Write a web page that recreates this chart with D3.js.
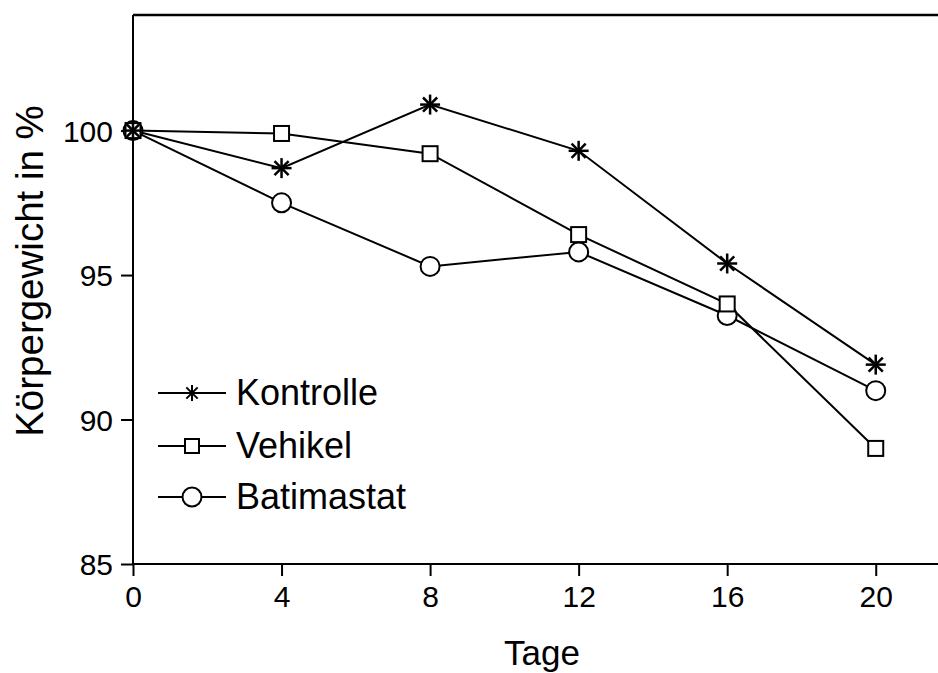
<!DOCTYPE html>
<html>
<head>
<meta charset="utf-8">
<script src="https://cdn.jsdelivr.net/npm/d3@7"></script>
<style>
body { margin: 0; background: #fff; }
svg { display: block; font-family: "Liberation Sans", Arial, sans-serif; }
</style>
</head>
<body>
<svg id="chart"></svg>
<script>
const days = [0, 4, 8, 12, 16, 20];
const kontrolle = [100, 98.7, 100.9, 99.3, 95.4, 91.9];
const vehikel = [100, 99.9, 99.2, 96.4, 94.0, 89.0];
const batimastat = [100, 97.5, 95.3, 95.8, 93.6, 91.0];
const seriesNames = ["Kontrolle", "Vehikel", "Batimastat"];
const xTicks = [0, 4, 8, 12, 16, 20];
const yTicks = [85, 90, 95, 100];

const width = 938, height = 673;
const svg = d3.select("#chart")
.attr("width", width)
.attr("height", height);

const x = d3.scaleLinear().domain([0, 22]).range([133, 950]);
const y = d3.scaleLinear().domain([85, 104]).range([564, 15]);

// frame top line
svg.append("line")
.attr("x1", x(0)).attr("x2", width)
.attr("y1", y(104)).attr("y2", y(104))
.attr("stroke", "#000").attr("stroke-width", 2.5);

const xAxis = svg.append("g")
.attr("transform", `translate(0,${y(85)})`)
.call(d3.axisBottom(x).tickValues(xTicks).tickSize(12).tickPadding(10).tickFormat(d3.format("d")));
xAxis.select(".domain").attr("d", `M${x(0)},0H${width}`);

const yAxis = svg.append("g")
.attr("transform", `translate(${x(0)},0)`)
.call(d3.axisLeft(y).tickValues(yTicks).tickSize(12).tickPadding(8).tickFormat(d3.format("d")));
yAxis.select(".domain").attr("d", `M0,${y(104)}V${y(85)}`);

svg.selectAll(".domain").attr("stroke", "#000").attr("stroke-width", 2);
svg.selectAll(".tick line").attr("stroke", "#000").attr("stroke-width", 2);
svg.selectAll("g.tick text")
.attr("fill", "#000")
.attr("font-size", 30)
.attr("font-family", "'Liberation Sans', Arial, sans-serif");
yAxis.selectAll(".tick text").attr("dy", "0.36em");

// axis titles
svg.append("text")
.attr("x", 542).attr("y", 665)
.attr("text-anchor", "middle")
.style("font-size", "35px")
.text("Tage");
svg.append("text")
.attr("transform", `translate(43,271) rotate(-90)`)
.attr("text-anchor", "middle")
.style("font-size", "38.5px")
.text("Körpergewicht in %");

const allSeries = [kontrolle, vehikel, batimastat];
const line = d3.line().x((d, i) => x(days[i])).y(d => y(d));

function drawMarker(g, type, big) {
  if (type === 0) {
    const r = big ? 10 : 8;
    [0, 45, 90, 135].forEach(a => {
      const rad = a * Math.PI / 180;
      g.append("line")
        .attr("x1", -r * Math.cos(rad)).attr("y1", -r * Math.sin(rad))
        .attr("x2", r * Math.cos(rad)).attr("y2", r * Math.sin(rad))
        .attr("stroke", "#000").attr("stroke-width", big ? 2.5 : 2);
    });
  } else if (type === 1) {
    const h = big ? 7.5 : 7;
    g.append("rect")
      .attr("x", -h).attr("y", -h).attr("width", 2 * h).attr("height", 2 * h)
      .attr("fill", "#fff").attr("stroke", "#000").attr("stroke-width", 2);
  } else {
    g.append("circle")
      .attr("r", 9.5)
      .attr("fill", "#fff").attr("stroke", "#000").attr("stroke-width", 2);
  }
}

// lines, drawn in reverse order so Kontrolle ends on top
[2, 1, 0].forEach(s => {
  svg.append("path")
    .datum(allSeries[s])
    .attr("d", line)
    .attr("fill", "none")
    .attr("stroke", "#000")
    .attr("stroke-width", 2);
});
[2, 1, 0].forEach(s => {
  allSeries[s].forEach((v, i) => {
    const g = svg.append("g").attr("transform", `translate(${x(days[i])},${y(v)})`);
    drawMarker(g, s, true);
  });
});

// legend
const legendY = [393, 446, 497];
seriesNames.forEach((name, s) => {
  const g = svg.append("g").attr("transform", `translate(0,${legendY[s]})`);
  g.append("line")
    .attr("x1", 158).attr("x2", 226)
    .attr("y1", 0).attr("y2", 0)
    .attr("stroke", "#000").attr("stroke-width", 2);
  const m = g.append("g").attr("transform", `translate(192,0)`);
  drawMarker(m, s, false);
  g.append("text")
    .attr("x", 236).attr("y", 12)
    .style("font-size", "36px")
    .text(name);
});
</script>
</body>
</html>
